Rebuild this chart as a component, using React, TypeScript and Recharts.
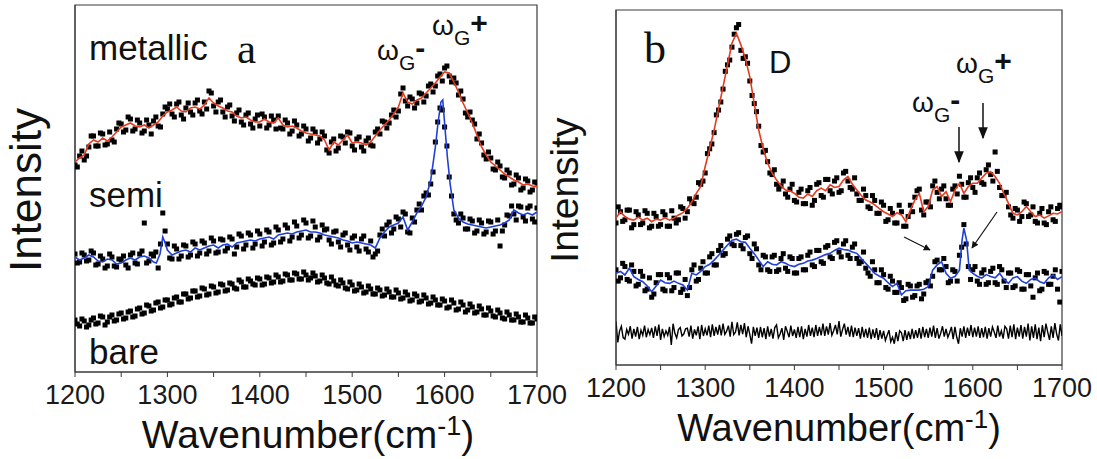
import React from 'react';
import { ComposedChart, Line, Scatter, XAxis, YAxis, ReferenceArea } from 'recharts';

// ---------- shared axis data ----------
const xTicks = [1200, 1250, 1300, 1350, 1400, 1450, 1500, 1550, 1600, 1650, 1700];
const xLabelled = [1200, 1300, 1400, 1500, 1600, 1700];
const aYTicks = [171];
const bYTicks = [1, 2, 3, 4, 5, 6, 7, 8, 9, 10];

// ---------- panel a raw points: set 1 at 1200 + 5i, set 2 at 1202.5 + 5i ----------
const aMetallicPts = [
  207, 216, 212, 225, 236, 226, 238, 228, 232, 243,
  248, 242, 253, 243, 249, 241, 247, 251, 246, 258,
  263, 258, 268, 257, 264, 260, 269, 261, 270, 281,
  266, 270, 260, 265, 256, 259, 250, 257, 248, 253,
  246, 255, 247, 252, 256, 243, 249, 241, 247, 238,
  243, 234, 240, 233, 236, 219, 233, 224, 235, 240,
  226, 233, 225, 231, 227, 240, 238, 250, 249, 262,
  261, 284, 266, 273, 269, 278, 276, 288, 286, 298,
  304, 296, 294, 277, 273, 255, 252, 233, 229, 213,
  214, 202, 206, 194, 199, 188, 194, 184, 191, 182,
  189,
];
const aMetallicPts2 = [
  205, 221, 216, 236, 226, 239, 227, 240, 230, 249,
  240, 255, 241, 252, 239, 252, 238, 255, 245, 265,
  268, 255, 270, 253, 269, 257, 272, 258, 263, 279,
  260, 272, 255, 267, 251, 262, 247, 259, 244, 257,
  258, 244, 256, 243, 244, 252, 238, 251, 236, 246,
  231, 243, 229, 240, 222, 230, 221, 236, 229, 239,
  222, 235, 221, 234, 226, 243, 251, 244, 257, 255,
  278, 271, 275, 264, 279, 270, 286, 280, 296, 291,
  306, 290, 289, 281, 259, 260, 248, 238, 217, 220,
  203, 210, 195, 202, 187, 197, 182, 193, 180, 190,
];
const aSemiPts = [
  118, 110, 117, 112, 119, 108, 113, 106, 115, 105,
  112, 107, 117, 109, 118, 149, 111, 116, 104, 159,
  128, 113, 123, 116, 126, 117, 128, 119, 129, 121,
  131, 120, 132, 124, 133, 125, 136, 127, 137, 128,
  138, 130, 140, 129, 142, 133, 144, 135, 146, 137,
  149, 136, 145, 135, 142, 132, 140, 130, 137, 127,
  134, 125, 133, 123, 131, 118, 137, 136, 150, 143,
  153, 160, 140, 154, 162, 162, 179, 188, 230, 264,
  245, 195, 158, 149, 154, 143, 151, 141, 149, 140,
  150, 141, 126, 147, 156, 158, 166, 155, 164, 153,
  164,
];
const aSemiPts2 = [
  109, 119, 111, 121, 107, 116, 104, 118, 106, 113,
  116, 104, 119, 108, 121, 109, 118, 120, 128, 141,
  114, 126, 113, 127, 115, 130, 116, 131, 118, 134,
  119, 133, 121, 135, 118, 138, 123, 139, 124, 141,
  126, 142, 127, 145, 130, 147, 131, 150, 134, 152,
  134, 151, 132, 147, 143, 128, 141, 125, 139, 122,
  136, 121, 136, 120, 115, 121, 143, 147, 139, 155,
  145, 158, 139, 150, 168, 176, 177, 200, 250, 262,
  226, 176, 152, 158, 143, 153, 139, 152, 138, 151,
  138, 152, 141, 157, 166, 152, 165, 151, 166, 150,
];
const aBarePts = [
  52, 46, 51, 47, 54, 49, 55, 50, 57, 52,
  59, 54, 61, 56, 64, 59, 66, 62, 70, 65,
  72, 68, 75, 70, 78, 74, 81, 76, 83, 78,
  85, 80, 87, 82, 88, 83, 90, 85, 91, 87,
  93, 88, 94, 90, 95, 91, 97, 92, 98, 93,
  97, 94, 96, 91, 94, 88, 91, 86, 89, 83,
  87, 82, 85, 80, 83, 78, 82, 77, 80, 75,
  79, 74, 77, 72, 76, 71, 74, 69, 72, 67,
  71, 65, 69, 63, 67, 62, 65, 60, 63, 57,
  61, 55, 59, 53, 57, 52, 55, 50, 54, 49,
  53,
];
const aBarePts2 = [
  48, 53, 45, 52, 48, 56, 47, 55, 51, 58,
  53, 60, 55, 63, 58, 67, 61, 69, 64, 72,
  67, 74, 70, 78, 73, 81, 75, 84, 77, 86,
  79, 88, 81, 89, 84, 92, 85, 93, 88, 94,
  87, 95, 89, 97, 90, 98, 92, 99, 93, 100,
  92, 99, 90, 97, 89, 95, 87, 92, 84, 90,
  81, 88, 79, 86, 78, 84, 76, 83, 75, 82,
  73, 80, 71, 78, 70, 77, 68, 75, 67, 73,
  64, 72, 62, 70, 60, 68, 59, 66, 57, 64,
  56, 62, 54, 60, 52, 58, 50, 57, 49, 55,
];

// ---------- panel a smoothed lines [wavenumber, intensity] ----------
const aMetallicLine: [number, number][] = [
  [1200, 210], [1205, 214], [1210, 217], [1215, 228], [1220, 232], [1225, 230], [1230, 234], [1235, 231],
  [1240, 235], [1245, 240], [1250, 245], [1255, 247], [1260, 249], [1265, 246], [1270, 245], [1275, 247],
  [1280, 244], [1285, 247], [1290, 250], [1295, 256], [1300, 260], [1305, 262], [1310, 265], [1315, 261],
  [1320, 260], [1325, 264], [1330, 265], [1335, 263], [1340, 267], [1345, 274], [1350, 269], [1355, 266],
  [1360, 264], [1365, 261], [1370, 260], [1375, 256], [1380, 254], [1385, 255], [1390, 252], [1395, 250],
  [1400, 250], [1405, 253], [1410, 250], [1415, 249], [1420, 254], [1425, 247], [1430, 245], [1435, 246],
  [1440, 244], [1445, 241], [1450, 239], [1455, 238], [1460, 237], [1465, 236], [1470, 232], [1475, 222],
  [1480, 230], [1485, 227], [1490, 232], [1495, 237], [1500, 229], [1505, 230], [1510, 229], [1515, 227],
  [1520, 230], [1525, 236], [1530, 242], [1535, 247], [1540, 252], [1545, 258], [1550, 265], [1555, 279],
  [1560, 270], [1565, 268], [1570, 272], [1575, 274], [1580, 279], [1585, 284], [1590, 289], [1595, 295],
  [1600, 300], [1605, 299], [1610, 290], [1615, 280], [1620, 269], [1625, 259], [1630, 249], [1635, 237],
  [1640, 225], [1645, 217], [1650, 210], [1655, 206], [1660, 202], [1665, 198], [1670, 195], [1675, 192],
  [1680, 190], [1685, 187], [1690, 188], [1695, 186], [1700, 185],
];
const aSemiLine: [number, number][] = [
  [1200, 115], [1205, 112], [1210, 114], [1215, 117], [1220, 115], [1225, 111], [1230, 110], [1235, 113],
  [1240, 112], [1245, 108], [1250, 109], [1255, 112], [1260, 114], [1265, 112], [1270, 115], [1275, 116],
  [1280, 114], [1285, 110], [1288, 109], [1292, 118], [1295, 135], [1298, 128], [1300, 122], [1305, 117],
  [1310, 119], [1315, 121], [1320, 122], [1325, 120], [1330, 124], [1335, 122], [1340, 124], [1345, 126],
  [1350, 127], [1355, 124], [1360, 127], [1365, 128], [1370, 125], [1375, 129], [1380, 130], [1385, 131],
  [1390, 132], [1395, 131], [1400, 133], [1405, 134], [1410, 135], [1415, 133], [1420, 137], [1425, 138],
  [1430, 139], [1435, 138], [1440, 140], [1445, 141], [1450, 142], [1455, 140], [1460, 140], [1465, 139],
  [1470, 137], [1475, 136], [1480, 135], [1485, 134], [1490, 132], [1495, 131], [1500, 129], [1505, 130],
  [1510, 129], [1515, 128], [1520, 127], [1525, 124], [1530, 134], [1535, 140], [1540, 145], [1545, 147],
  [1550, 149], [1555, 155], [1560, 142], [1565, 150], [1570, 159], [1575, 166], [1580, 175], [1585, 192],
  [1590, 225], [1593, 250], [1596, 270], [1598, 272], [1600, 249], [1603, 215], [1606, 188], [1610, 162],
  [1615, 154], [1620, 150], [1625, 148], [1630, 147], [1635, 146], [1640, 145], [1645, 144], [1650, 145],
  [1655, 146], [1660, 147], [1665, 149], [1670, 152], [1675, 162], [1680, 159], [1685, 157], [1690, 159],
  [1695, 157], [1700, 160],
];

// ---------- panel b raw points: set 1 at 1200 + 5i, set 2 at 1202.5 + 5i ----------
const bMetallicPts = [
  4.40, 4.75, 4.50, 4.80, 4.35, 4.65, 4.40, 4.70, 4.30, 4.60,
  4.35, 4.65, 4.30, 4.55, 4.50, 4.85, 4.75, 5.05, 5.20, 5.60,
  5.95, 6.70, 7.20, 7.90, 8.55, 9.30, 9.85, 10.45, 9.75, 9.55,
  8.80, 8.10, 7.40, 6.60, 6.30, 5.90, 5.60, 5.55, 5.30, 5.45,
  5.10, 5.35, 5.00, 5.40, 4.95, 5.60, 5.25, 5.75, 5.40, 5.70,
  5.35, 5.95, 5.70, 5.45, 5.30, 5.10, 5.25, 4.85, 5.10, 4.70,
  4.95, 4.50, 4.70, 4.40, 4.75, 4.30, 4.95, 5.20, 5.45, 4.65,
  5.05, 5.55, 5.35, 5.45, 5.15, 4.95, 5.55, 5.85, 5.20, 5.65,
  5.50, 5.80, 5.65, 6.05, 5.90, 6.60, 5.50, 5.25, 4.90, 4.55,
  4.80, 4.60, 5.00, 4.65, 4.45, 4.70, 4.40, 4.75, 4.50, 4.85,
  4.90,
];
const bMetallicPts2 = [
  4.90, 4.45, 4.80, 4.25, 4.75, 4.35, 4.78, 4.25, 4.70, 4.30,
  4.75, 4.30, 4.78, 4.40, 4.90, 4.55, 5.15, 5.00, 5.65, 5.70,
  6.55, 6.85, 7.75, 8.15, 9.10, 9.45, 10.25, 10.55, 9.50, 9.35,
  8.35, 7.85, 6.80, 6.65, 5.95, 6.05, 5.45, 5.70, 5.20, 5.60,
  5.05, 5.45, 5.00, 5.50, 5.10, 5.65, 5.20, 5.75, 5.30, 5.80,
  5.40, 6.00, 5.50, 5.80, 5.10, 5.45, 4.90, 5.25, 4.70, 5.05,
  4.45, 4.85, 4.40, 4.95, 4.30, 4.60, 4.75, 5.40, 4.80, 5.05,
  4.90, 5.70, 5.15, 5.55, 4.95, 5.45, 5.30, 5.60, 5.20, 5.80,
  5.35, 5.95, 5.60, 6.20, 5.70, 6.00, 5.25, 5.35, 4.65, 4.85,
  4.45, 5.05, 4.60, 4.90, 4.40, 4.85, 4.35, 4.90, 4.45, 4.95,
];
const bSemiPts = [
  2.95, 2.70, 3.05, 2.60, 2.90, 2.50, 2.75, 2.35, 2.10, 2.55,
  2.80, 2.30, 2.70, 2.40, 2.85, 2.35, 2.15, 2.95, 2.60, 3.00,
  2.85, 3.35, 3.10, 3.55, 3.40, 3.90, 3.75, 4.05, 3.70, 3.95,
  3.45, 3.75, 3.10, 3.40, 2.95, 3.35, 2.90, 3.30, 3.00, 3.35,
  2.85, 3.30, 2.95, 3.40, 3.10, 3.55, 3.20, 3.65, 3.35, 3.80,
  3.50, 3.75, 3.40, 3.65, 3.30, 3.20, 3.00, 2.75, 2.95, 2.55,
  2.80, 2.35, 2.60, 2.25, 2.40, 2.05, 2.45, 2.15, 2.50, 2.20,
  2.60, 2.75, 3.25, 2.95, 3.05, 2.60, 2.90, 3.40, 4.35, 3.05,
  2.95, 2.60, 2.85, 2.50, 2.90, 2.55, 3.05, 2.60, 2.85, 2.40,
  2.95, 2.35, 2.80, 2.45, 2.70, 2.30, 2.90, 2.50, 2.75, 2.35,
  2.90,
];
const bSemiPts2 = [
  2.60, 3.15, 2.65, 3.10, 2.45, 2.90, 2.30, 2.70, 2.20, 2.80,
  2.35, 2.80, 2.30, 2.85, 2.25, 2.65, 2.40, 3.10, 2.65, 3.20,
  2.85, 3.45, 3.10, 3.70, 3.45, 4.00, 3.70, 4.10, 3.60, 4.00,
  3.30, 3.60, 2.95, 3.35, 2.90, 3.40, 2.95, 3.45, 2.90, 3.30,
  2.85, 3.35, 2.95, 3.50, 3.05, 3.55, 3.15, 3.70, 3.30, 3.85,
  3.35, 3.85, 3.30, 3.75, 3.15, 3.50, 2.85, 3.20, 2.55, 2.95,
  2.40, 2.75, 2.25, 2.55, 2.00, 2.50, 2.10, 2.45, 2.05, 2.55,
  2.45, 3.20, 2.95, 3.30, 2.55, 2.95, 2.60, 3.65, 3.75, 2.65,
  3.05, 2.50, 2.95, 2.55, 3.00, 2.50, 2.95, 2.40, 2.85, 2.45,
  2.90, 2.35, 2.80, 2.10, 2.85, 2.35, 2.85, 2.50, 2.95, 1.95,
];

// ---------- panel b smoothed lines ----------
const bMetallicLine: [number, number][] = [
  [1200, 4.55], [1205, 4.75], [1210, 4.60], [1215, 4.52], [1220, 4.49], [1225, 4.58], [1230, 4.49], [1235, 4.55],
  [1240, 4.44], [1245, 4.52], [1250, 4.49], [1255, 4.56], [1260, 4.49], [1265, 4.55], [1270, 4.65], [1275, 4.72],
  [1280, 4.86], [1285, 5.05], [1290, 5.32], [1295, 5.53], [1300, 6.15], [1305, 6.70], [1310, 7.28], [1315, 7.95],
  [1320, 8.62], [1325, 9.30], [1330, 9.97], [1335, 10.28], [1340, 9.92], [1345, 9.50], [1350, 8.93], [1355, 8.10],
  [1360, 7.28], [1365, 6.70], [1370, 6.25], [1375, 5.95], [1380, 5.73], [1385, 5.55], [1390, 5.42], [1395, 5.40],
  [1400, 5.32], [1405, 5.20], [1410, 5.17], [1415, 5.30], [1420, 5.22], [1425, 5.40], [1430, 5.48], [1435, 5.40],
  [1440, 5.58], [1445, 5.50], [1450, 5.53], [1455, 5.73], [1460, 5.84], [1465, 5.60], [1470, 5.42], [1475, 5.25],
  [1480, 5.11], [1485, 5.05], [1490, 4.96], [1495, 4.85], [1500, 4.75], [1505, 4.68], [1510, 4.60], [1515, 4.72],
  [1520, 4.65], [1525, 4.44], [1530, 4.80], [1535, 5.11], [1540, 5.32], [1545, 4.75], [1550, 4.91], [1555, 5.42],
  [1560, 5.53], [1565, 5.22], [1570, 5.37], [1575, 5.06], [1580, 5.42], [1585, 5.63], [1590, 5.32], [1595, 5.53],
  [1600, 5.63], [1605, 5.63], [1610, 5.79], [1615, 5.94], [1620, 5.99], [1625, 5.84], [1630, 5.63], [1635, 5.30],
  [1640, 5.01], [1645, 4.70], [1650, 4.65], [1655, 4.75], [1660, 4.91], [1665, 4.75], [1670, 4.60], [1675, 4.65],
  [1680, 4.55], [1685, 4.62], [1690, 4.70], [1695, 4.68], [1700, 4.75],
];
const bSemiLine: [number, number][] = [
  [1200, 2.84], [1205, 2.90], [1210, 2.79], [1215, 3.00], [1220, 2.74], [1225, 2.65], [1230, 2.58], [1235, 2.45],
  [1240, 2.27], [1245, 2.45], [1250, 2.63], [1255, 2.55], [1260, 2.53], [1265, 2.60], [1270, 2.53], [1275, 2.48],
  [1280, 2.32], [1285, 2.84], [1290, 2.79], [1295, 2.90], [1300, 3.05], [1305, 3.12], [1310, 3.25], [1315, 3.40],
  [1320, 3.56], [1325, 3.72], [1330, 3.87], [1335, 3.90], [1340, 3.82], [1345, 3.80], [1350, 3.62], [1355, 3.45],
  [1360, 3.25], [1365, 3.05], [1370, 3.20], [1375, 3.12], [1380, 3.10], [1385, 3.20], [1390, 3.15], [1395, 3.08],
  [1400, 3.05], [1405, 3.12], [1410, 3.15], [1415, 3.22], [1420, 3.25], [1425, 3.30], [1430, 3.36], [1435, 3.42],
  [1440, 3.46], [1445, 3.55], [1450, 3.62], [1455, 3.58], [1460, 3.56], [1465, 3.50], [1470, 3.46], [1475, 3.30],
  [1480, 3.15], [1485, 3.00], [1490, 2.84], [1495, 2.76], [1500, 2.69], [1505, 2.55], [1510, 2.43], [1515, 2.53],
  [1520, 2.17], [1525, 2.30], [1530, 2.32], [1535, 2.32], [1540, 2.32], [1545, 2.35], [1550, 2.43], [1555, 2.94],
  [1560, 3.10], [1565, 3.20], [1570, 2.84], [1575, 2.69], [1580, 2.74], [1585, 2.94], [1588, 3.87], [1590, 4.24],
  [1593, 3.87], [1596, 2.94], [1600, 2.84], [1605, 2.75], [1610, 2.69], [1615, 2.80], [1620, 2.74], [1625, 2.70],
  [1630, 2.84], [1635, 2.65], [1640, 2.53], [1645, 2.70], [1650, 2.74], [1655, 2.60], [1660, 2.53], [1665, 2.65],
  [1670, 2.69], [1675, 2.58], [1680, 2.53], [1685, 2.70], [1690, 2.79], [1695, 2.65], [1700, 2.74],
];
// bare substrate (noisy trace), step 2 cm-1 starting at 1200
const bBareLine = [
  1.35, 0.70, 1.05, 1.20, 0.85, 0.80, 1.10, 0.95, 1.20, 0.82,
  1.12, 0.88, 1.18, 0.80, 1.08, 0.92, 1.22, 0.86, 1.10, 0.94,
  1.15, 0.84, 1.20, 0.90, 1.25, 0.78, 1.12, 0.88, 1.06, 0.92,
  1.18, 0.62, 1.28, 0.98, 0.84, 1.10, 1.16, 0.90, 0.96, 1.12,
  1.14, 0.88, 1.22, 0.82, 1.10, 0.92, 1.20, 0.80, 1.24, 0.90,
  1.12, 0.92, 1.22, 0.86, 1.26, 0.90, 1.18, 0.94, 1.24, 0.92,
  1.28, 0.95, 1.05, 1.22, 0.88, 1.34, 0.94, 1.02, 1.32, 0.92,
  1.24, 0.96, 1.30, 0.86, 1.20, 0.95, 0.66, 1.18, 0.90, 1.16,
  0.84, 1.18, 0.86, 1.14, 0.80, 1.20, 0.88, 1.12, 0.82, 1.16,
  1.24, 0.84, 0.96, 1.14, 0.78, 1.20, 1.04, 0.86, 1.22, 0.90,
  1.10, 0.84, 1.18, 0.86, 1.20, 0.80, 1.12, 0.88, 1.24, 0.90,
  1.16, 0.86, 1.24, 0.90, 1.18, 0.92, 1.28, 0.90, 1.20, 0.94,
  1.30, 0.92, 1.06, 1.24, 0.95, 1.36, 0.88, 1.10, 1.28, 0.94,
  1.18, 0.88, 1.22, 0.86, 1.16, 0.90, 1.14, 0.82, 1.18, 0.86,
  1.12, 0.84, 1.16, 0.80, 1.10, 0.84, 1.14, 0.78, 1.08, 0.82,
  1.06, 0.76, 0.92, 1.08, 0.72, 0.86, 0.66, 1.02, 0.74, 1.06,
  1.00, 0.74, 1.08, 0.78, 1.04, 0.80, 1.12, 0.82, 1.08, 0.84,
  1.14, 0.82, 1.18, 0.86, 1.12, 0.84, 1.16, 0.88, 1.22, 0.84,
  1.14, 0.82, 0.98, 1.20, 0.88, 1.12, 0.86, 1.00, 1.18, 0.80,
  1.18, 0.86, 0.66, 1.14, 0.88, 1.20, 0.84, 1.16, 0.90, 1.24,
  0.86, 1.16, 0.88, 1.20, 0.84, 1.14, 0.86, 1.18, 0.82, 1.14,
  0.88, 1.18, 1.02, 0.84, 1.22, 0.88, 1.06, 0.82, 1.20, 1.12,
  0.82, 1.22, 0.86, 1.26, 0.80, 1.16, 0.88, 1.24, 0.82, 1.18,
  0.88, 1.28, 0.76, 1.20, 0.84, 1.26, 0.80, 1.16, 0.74, 1.24,
  0.86, 1.28, 1.02, 0.78, 1.20, 0.84, 1.30, 0.96, 0.76, 1.26,
  0.90,
];

// ---------- helpers ----------
const onGrid = (start: number, step: number, ys: number[]) => ys.map((y, i) => ({ x: start + step * i, y }));
const fromPairs = (p: [number, number][]) => p.map(([x, y]) => ({ x, y }));

const SANS = '"Liberation Sans", Arial, Helvetica, sans-serif';
const SERIF = '"Liberation Serif", "Times New Roman", serif';
const AXIS = '#3a3a3a';
const RED = '#e63a1e';
const BLUE = '#1f3fd8';

const makeSquare = (s: number) => (props: any) => {
  const { cx, cy } = props;
  if (cx == null || cy == null) return <g />;
  return <rect x={cx - s / 2} y={cy - s / 2} width={s} height={s} fill="#000" />;
};
const Sq = makeSquare(5);

// x tick: only the hundreds carry a label, the fifties are bare tick marks
const XTick = (props: any) => {
  const { x, y, payload } = props;
  if (!xLabelled.includes(payload.value)) return <g />;
  return (
    <text x={x} y={y} dy={17} textAnchor="middle" fontSize={27} fontFamily={SANS} fill="#1a1a1a">
      {payload.value}
    </text>
  );
};

const PanelA = () => (
  <ComposedChart width={600} height={459} margin={{ top: 5, right: 63, bottom: 0, left: 0 }}>
    <XAxis dataKey="x" type="number" domain={[1200, 1700]} ticks={xTicks} allowDataOverflow
      height={87} tickSize={5} tickMargin={10} tick={<XTick />} stroke={AXIS} interval={0} />
    <YAxis dataKey="y" type="number" domain={[0, 367]} ticks={aYTicks} tick={false} allowDataOverflow
      width={75} tickSize={5} stroke={AXIS} />
    <ReferenceArea x1={1200} x2={1700} y1={0} y2={367} fill="none" stroke={AXIS} strokeWidth={1.2} ifOverflow="visible" />
    <Scatter data={onGrid(1200, 5, aBarePts)} dataKey="y" shape={Sq} isAnimationActive={false} />
    <Scatter data={onGrid(1202.5, 5, aBarePts2)} dataKey="y" shape={Sq} isAnimationActive={false} />
    <Scatter data={onGrid(1200, 5, aSemiPts)} dataKey="y" shape={Sq} isAnimationActive={false} />
    <Scatter data={onGrid(1202.5, 5, aSemiPts2)} dataKey="y" shape={Sq} isAnimationActive={false} />
    <Scatter data={onGrid(1200, 5, aMetallicPts)} dataKey="y" shape={Sq} isAnimationActive={false} />
    <Scatter data={onGrid(1202.5, 5, aMetallicPts2)} dataKey="y" shape={Sq} isAnimationActive={false} />
    <Line data={fromPairs(aSemiLine)} dataKey="y" type="linear" stroke={BLUE} strokeWidth={1.6} dot={false} isAnimationActive={false} zIndex={700} />
    <Line data={fromPairs(aMetallicLine)} dataKey="y" type="linear" stroke={RED} strokeWidth={1.6} dot={false} isAnimationActive={false} zIndex={700} />
  </ComposedChart>
);

const PanelB = () => (
  <ComposedChart width={556} height={459} margin={{ top: 10, right: 35, bottom: 0, left: 0 }}>
    <XAxis dataKey="x" type="number" domain={[1200, 1700]} ticks={xTicks} allowDataOverflow
      height={94} tickSize={5} tickMargin={10} tick={<XTick />} stroke={AXIS} interval={0} />
    <YAxis dataKey="y" type="number" domain={[0, 11]} ticks={bYTicks} tick={false} allowDataOverflow
      width={75} tickSize={7} stroke={AXIS} />
    <ReferenceArea x1={1200} x2={1700} y1={0} y2={11} fill="none" stroke={AXIS} strokeWidth={1.2} ifOverflow="visible" />
    <Scatter data={onGrid(1200, 5, bSemiPts)} dataKey="y" shape={Sq} isAnimationActive={false} />
    <Scatter data={onGrid(1202.5, 5, bSemiPts2)} dataKey="y" shape={Sq} isAnimationActive={false} />
    <Scatter data={onGrid(1200, 5, bMetallicPts)} dataKey="y" shape={Sq} isAnimationActive={false} />
    <Scatter data={onGrid(1202.5, 5, bMetallicPts2)} dataKey="y" shape={Sq} isAnimationActive={false} />
    <Line data={onGrid(1200, 2, bBareLine)} dataKey="y" type="linear" stroke="#000" strokeWidth={1.4} dot={false} isAnimationActive={false} />
    <Line data={fromPairs(bSemiLine)} dataKey="y" type="linear" stroke={BLUE} strokeWidth={1.6} dot={false} isAnimationActive={false} zIndex={700} />
    <Line data={fromPairs(bMetallicLine)} dataKey="y" type="linear" stroke={RED} strokeWidth={1.6} dot={false} isAnimationActive={false} zIndex={700} />
  </ComposedChart>
);

const Omega = ({ x, y, sign }: { x: number; y: number; sign: string }) => (
  <text x={x} y={y} fontFamily={SANS} fill="#111" fontSize={28}>
    ω
    <tspan fontSize={21} dy={10}>G</tspan>
    <tspan fontSize={30} fontWeight="bold" dy={-12}>{sign}</tspan>
  </text>
);

const Overlay = () => (
  <svg width={1097} height={459} style={{ position: 'absolute', left: 0, top: 0, pointerEvents: 'none' }}>
    <defs>
      <marker id="ah" viewBox="0 0 10 10" refX="9" refY="5" markerWidth="7" markerHeight="7" orient="auto" markerUnits="userSpaceOnUse">
        <path d="M0,0 L10,5 L0,10 z" fill="#111" />
      </marker>
      <marker id="ah2" viewBox="0 0 10 10" refX="9" refY="5" markerWidth="12" markerHeight="12" orient="auto" markerUnits="userSpaceOnUse">
        <path d="M0,1 L10,5 L0,9 z" fill="#111" />
      </marker>
    </defs>
    {/* panel a texts */}
    <text transform="translate(41,190) rotate(-90)" textAnchor="middle" fontFamily={SANS} fontSize={44} fill="#111">Intensity</text>
    <text x={89} y={60} fontFamily={SANS} fontSize={35} fill="#111">metallic</text>
    <text x={237} y={63} fontFamily={SERIF} fontSize={43} fill="#111">a</text>
    <text x={89} y={207} fontFamily={SANS} fontSize={35} fill="#111">semi</text>
    <text x={89} y={364} fontFamily={SANS} fontSize={35} fill="#111">bare</text>
    <Omega x={377} y={60} sign="-" />
    <Omega x={432} y={35} sign="+" />
    <text x={308} y={448} textAnchor="middle" fontFamily={SANS} fontSize={39} fill="#111">
      Wavenumber(cm<tspan fontSize={27} dy={-13}>-1</tspan><tspan dy={13}>)</tspan>
    </text>
    {/* panel b texts */}
    <text transform="translate(578,190) rotate(-90)" textAnchor="middle" fontFamily={SANS} fontSize={39} fill="#111">Intensity</text>
    <text x={644} y={63} fontFamily={SERIF} fontSize={44} fill="#111">b</text>
    <text x={769} y={73} fontFamily={SANS} fontSize={31} fill="#111">D</text>
    <Omega x={912} y={112} sign="-" />
    <Omega x={956} y={73} sign="+" />
    <line x1={959} y1={127} x2={959} y2={162} stroke="#111" strokeWidth={1.5} markerEnd="url(#ah2)" />
    <line x1={983} y1={103} x2={983} y2={138} stroke="#111" strokeWidth={1.5} markerEnd="url(#ah2)" />
    <line x1={904} y1={237} x2={930} y2={250} stroke="#111" strokeWidth={1.2} markerEnd="url(#ah)" />
    <line x1={997} y1={212} x2={972} y2={248} stroke="#111" strokeWidth={1.2} markerEnd="url(#ah)" />
    <text x={839} y={441} textAnchor="middle" fontFamily={SANS} fontSize={38} fill="#111">
      Wavenumber(cm<tspan fontSize={26} dy={-13}>-1</tspan><tspan dy={13}>)</tspan>
    </text>
  </svg>
);

export default function App() {
  return (
    <div style={{ position: 'absolute', left: 0, top: 0, width: 1097, height: 459, background: '#fff', overflow: 'hidden' }}>
      <div style={{ position: 'absolute', left: 0, top: 0 }}>
        <PanelA />
      </div>
      <div style={{ position: 'absolute', left: 541, top: 0 }}>
        <PanelB />
      </div>
      <Overlay />
    </div>
  );
}
